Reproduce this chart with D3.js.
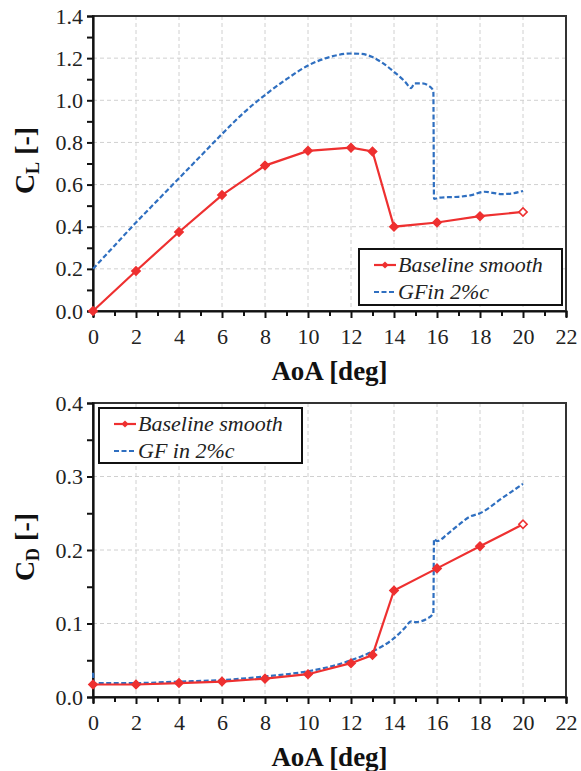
<!DOCTYPE html>
<html>
<head>
<meta charset="utf-8">
<script src="https://cdn.jsdelivr.net/npm/d3@7"></script>
<style>
  html, body { margin: 0; padding: 0; background: #fff; }
  svg { display: block; }
  svg text { font-family: "Liberation Serif", "Times New Roman", "Nimbus Roman", "DejaVu Serif", serif !important; }
</style>
</head>
<body>
<svg id="chart" width="581" height="771"></svg>
<script>
// Angle of attack for the baseline (marker) series
const aoaBase = [0, 2, 4, 6, 8, 10, 12, 13, 14, 16, 18, 20];
// Lift and drag coefficients, baseline smooth airfoil
const clBase = [0, 0.19, 0.375, 0.55, 0.69, 0.76, 0.775, 0.757, 0.40, 0.42, 0.45, 0.47];
const cdBase = [0.017, 0.017, 0.019, 0.021, 0.025, 0.031, 0.046, 0.057, 0.145, 0.175, 0.205, 0.235];

// Gurney flap case (dense curve), lift
const aoaGfCl = [0, 1, 2, 3, 4, 5, 6, 7, 8, 9, 10, 11, 12, 12.5, 13, 13.5, 14, 14.5, 14.8, 14.95, 15.3, 15.6, 15.83, 15.86, 16.1, 16.5, 17, 17.6, 18.2, 18.6, 19, 19.5, 20];
const clGf = [0.2, 0.31, 0.42, 0.525, 0.63, 0.735, 0.84, 0.94, 1.025, 1.10, 1.165, 1.205, 1.222, 1.22, 1.205, 1.175, 1.135, 1.09, 1.058, 1.08, 1.08, 1.07, 1.045, 0.532, 0.538, 0.54, 0.542, 0.55, 0.566, 0.561, 0.555, 0.558, 0.57];

// Gurney flap case (dense curve), drag
const aoaGfCd = [0, 0.05, 2, 4, 6, 8, 10, 11, 12, 13, 14, 14.5, 14.8, 15, 15.5, 15.83, 15.86, 16, 16.5, 17, 17.5, 18, 19, 20];
const cdGf = [0.033, 0.019, 0.019, 0.021, 0.023, 0.028, 0.035, 0.041, 0.05, 0.062, 0.08, 0.094, 0.103, 0.102, 0.106, 0.114, 0.215, 0.212, 0.222, 0.234, 0.245, 0.25, 0.27, 0.29];

// Axis ticks
const xTicks = [0, 2, 4, 6, 8, 10, 12, 14, 16, 18, 20, 22];
const clTicks = [0, 0.2, 0.4, 0.6, 0.8, 1.0, 1.2, 1.4];
const cdTicks = [0, 0.1, 0.2, 0.3, 0.4];

const RED = "#ee3030";
const BLUE = "#2f6fc0";
const svg = d3.select("#chart");

// small diamond: a square turned by 45 degrees
const diamondPath = s => d3.symbol().type(d3.symbolSquare).size(s)();

function panel(opt) {
  const { top, bottom, left, right, yMax, yTicks, yMinorStep, subscript,
          baseY, gfX, gfY, legend } = opt;
  const x = d3.scaleLinear().domain([0, 22]).range([left, right]);
  const y = d3.scaleLinear().domain([0, yMax]).range([bottom, top]);
  const g = svg.append("g");

  // dashed grid
  g.selectAll(".vg").data(xTicks.filter(t => t > 0 && t < 22)).join("line")
    .attr("x1", d => x(d)).attr("x2", d => x(d)).attr("y1", top).attr("y2", bottom)
    .attr("stroke", "#d0d0d0").attr("stroke-width", 1).attr("stroke-dasharray", "4,3");
  g.selectAll(".hg").data(yTicks.filter(t => t > 0 && t < yMax)).join("line")
    .attr("x1", left).attr("x2", right).attr("y1", d => y(d)).attr("y2", d => y(d))
    .attr("stroke", "#d0d0d0").attr("stroke-width", 1).attr("stroke-dasharray", "4,3");

  // frame
  g.append("rect").attr("x", left).attr("y", top).attr("width", right - left).attr("height", bottom - top)
    .attr("fill", "none").attr("stroke", "#333").attr("stroke-width", 2);

  // x axis
  const xAxis = d3.axisBottom(x).tickValues(d3.range(0, 23, 1)).tickSize(6)
    .tickFormat(d => (d % 2 === 0 ? d : ""));
  const xa = g.append("g").attr("transform", `translate(0,${bottom})`).call(xAxis);
  xa.attr("font-family", null);
  xa.select(".domain").attr("stroke", "#111").attr("stroke-width", 2.2);
  xa.selectAll(".tick line").attr("stroke", "#111").attr("stroke-width", 2)
    .attr("y2", d => (d % 2 === 0 ? 7 : 5));
  xa.selectAll(".tick text").attr("font-size", 22).attr("fill", "#222").attr("y", 17);

  // y axis
  const minor = d3.range(0, yMax + 1e-9, yMinorStep);
  const yAxis = d3.axisLeft(y).tickValues(minor).tickSize(6)
    .tickFormat(d => (yTicks.some(t => Math.abs(t - d) < 1e-9) ? d3.format(".1f")(d) : ""));
  const ya = g.append("g").attr("transform", `translate(${left},0)`).call(yAxis);
  ya.attr("font-family", null);
  ya.select(".domain").attr("stroke", "#111").attr("stroke-width", 2.2);
  ya.selectAll(".tick line").attr("stroke", "#111").attr("stroke-width", 2);
  ya.selectAll(".tick text").attr("font-size", 22).attr("fill", "#222").attr("x", -10);

  // axis titles
  g.append("text").attr("x", (left + right) / 2).attr("y", bottom + 69)
    .attr("text-anchor", "middle").attr("font-size", 27).attr("font-weight", "bold")
    .attr("fill", "#111").text("AoA [deg]");
  const yt = g.append("text")
    .attr("transform", `translate(34,${(top + bottom) / 2 - 3}) rotate(-90)`)
    .attr("text-anchor", "middle").attr("font-size", 28).attr("font-weight", "bold").attr("fill", "#111");
  yt.append("tspan").text("C");
  yt.append("tspan").attr("font-size", 18).attr("dy", 5).text(subscript);
  yt.append("tspan").attr("dy", -5).text(" [-]");

  // GF dashed curve
  const gfData = gfX.map((a, i) => [a, gfY[i]]);
  const lineGen = d3.line().x(d => x(d[0])).y(d => y(d[1]));
  g.append("path").datum(gfData)
    .attr("d", lineGen.curve(d3.curveMonotoneX))
    .attr("fill", "none").attr("stroke", BLUE).attr("stroke-width", 2.2)
    .attr("stroke-dasharray", "5,2.5");

  // baseline line + diamond markers
  const bData = aoaBase.map((a, i) => [a, baseY[i]]);
  g.append("path").datum(bData)
    .attr("d", d3.line().x(d => x(d[0])).y(d => y(d[1])))
    .attr("fill", "none").attr("stroke", RED).attr("stroke-width", 2.2);
  g.selectAll(".mk").data(bData).join("path")
    .attr("transform", d => `translate(${x(d[0])},${y(d[1])}) rotate(45)`)
    .attr("d", diamondPath(34))
    .attr("fill", (d, i) => (i === bData.length - 1 ? "#fff" : RED))
    .attr("stroke", RED).attr("stroke-width", 1.6);

  // legend
  const L = legend;
  const lg = g.append("g");
  lg.append("rect").attr("x", L.x).attr("y", L.y).attr("width", L.w).attr("height", L.h)
    .attr("fill", "#fff").attr("stroke", "#111").attr("stroke-width", 2);
  const r1 = L.y + 16, r2 = L.y + 43;
  lg.append("line").attr("x1", L.x + 15).attr("x2", L.x + 37).attr("y1", r1).attr("y2", r1)
    .attr("stroke", RED).attr("stroke-width", 2.2);
  lg.append("path").attr("transform", `translate(${L.x + 26},${r1}) rotate(45)`)
    .attr("d", diamondPath(26)).attr("fill", RED);
  lg.append("line").attr("x1", L.x + 15).attr("x2", L.x + 37).attr("y1", r2).attr("y2", r2)
    .attr("stroke", BLUE).attr("stroke-width", 2.2).attr("stroke-dasharray", "5,2.5");
  lg.append("text").attr("x", L.x + 39).attr("y", r1 + 7).attr("font-size", 22)
    .attr("font-style", "italic").attr("fill", "#222").text("Baseline smooth");
  lg.append("text").attr("x", L.x + 39).attr("y", r2 + 7).attr("font-size", 22)
    .attr("font-style", "italic").attr("fill", "#222").text(L.gfLabel);
}

panel({
  top: 16, bottom: 311, left: 93, right: 566, yMax: 1.4, yTicks: clTicks, yMinorStep: 0.1,
  subscript: "L", baseY: clBase, gfX: aoaGfCl, gfY: clGf,
  legend: { x: 359, y: 249, w: 203, h: 56, gfLabel: "GFin 2%c" }
});
panel({
  top: 403, bottom: 697, left: 93, right: 566, yMax: 0.4, yTicks: cdTicks, yMinorStep: 0.05,
  subscript: "D", baseY: cdBase, gfX: aoaGfCd, gfY: cdGf,
  legend: { x: 99, y: 408, w: 203, h: 55, gfLabel: "GF in 2%c" }
});
</script>
</body>
</html>
